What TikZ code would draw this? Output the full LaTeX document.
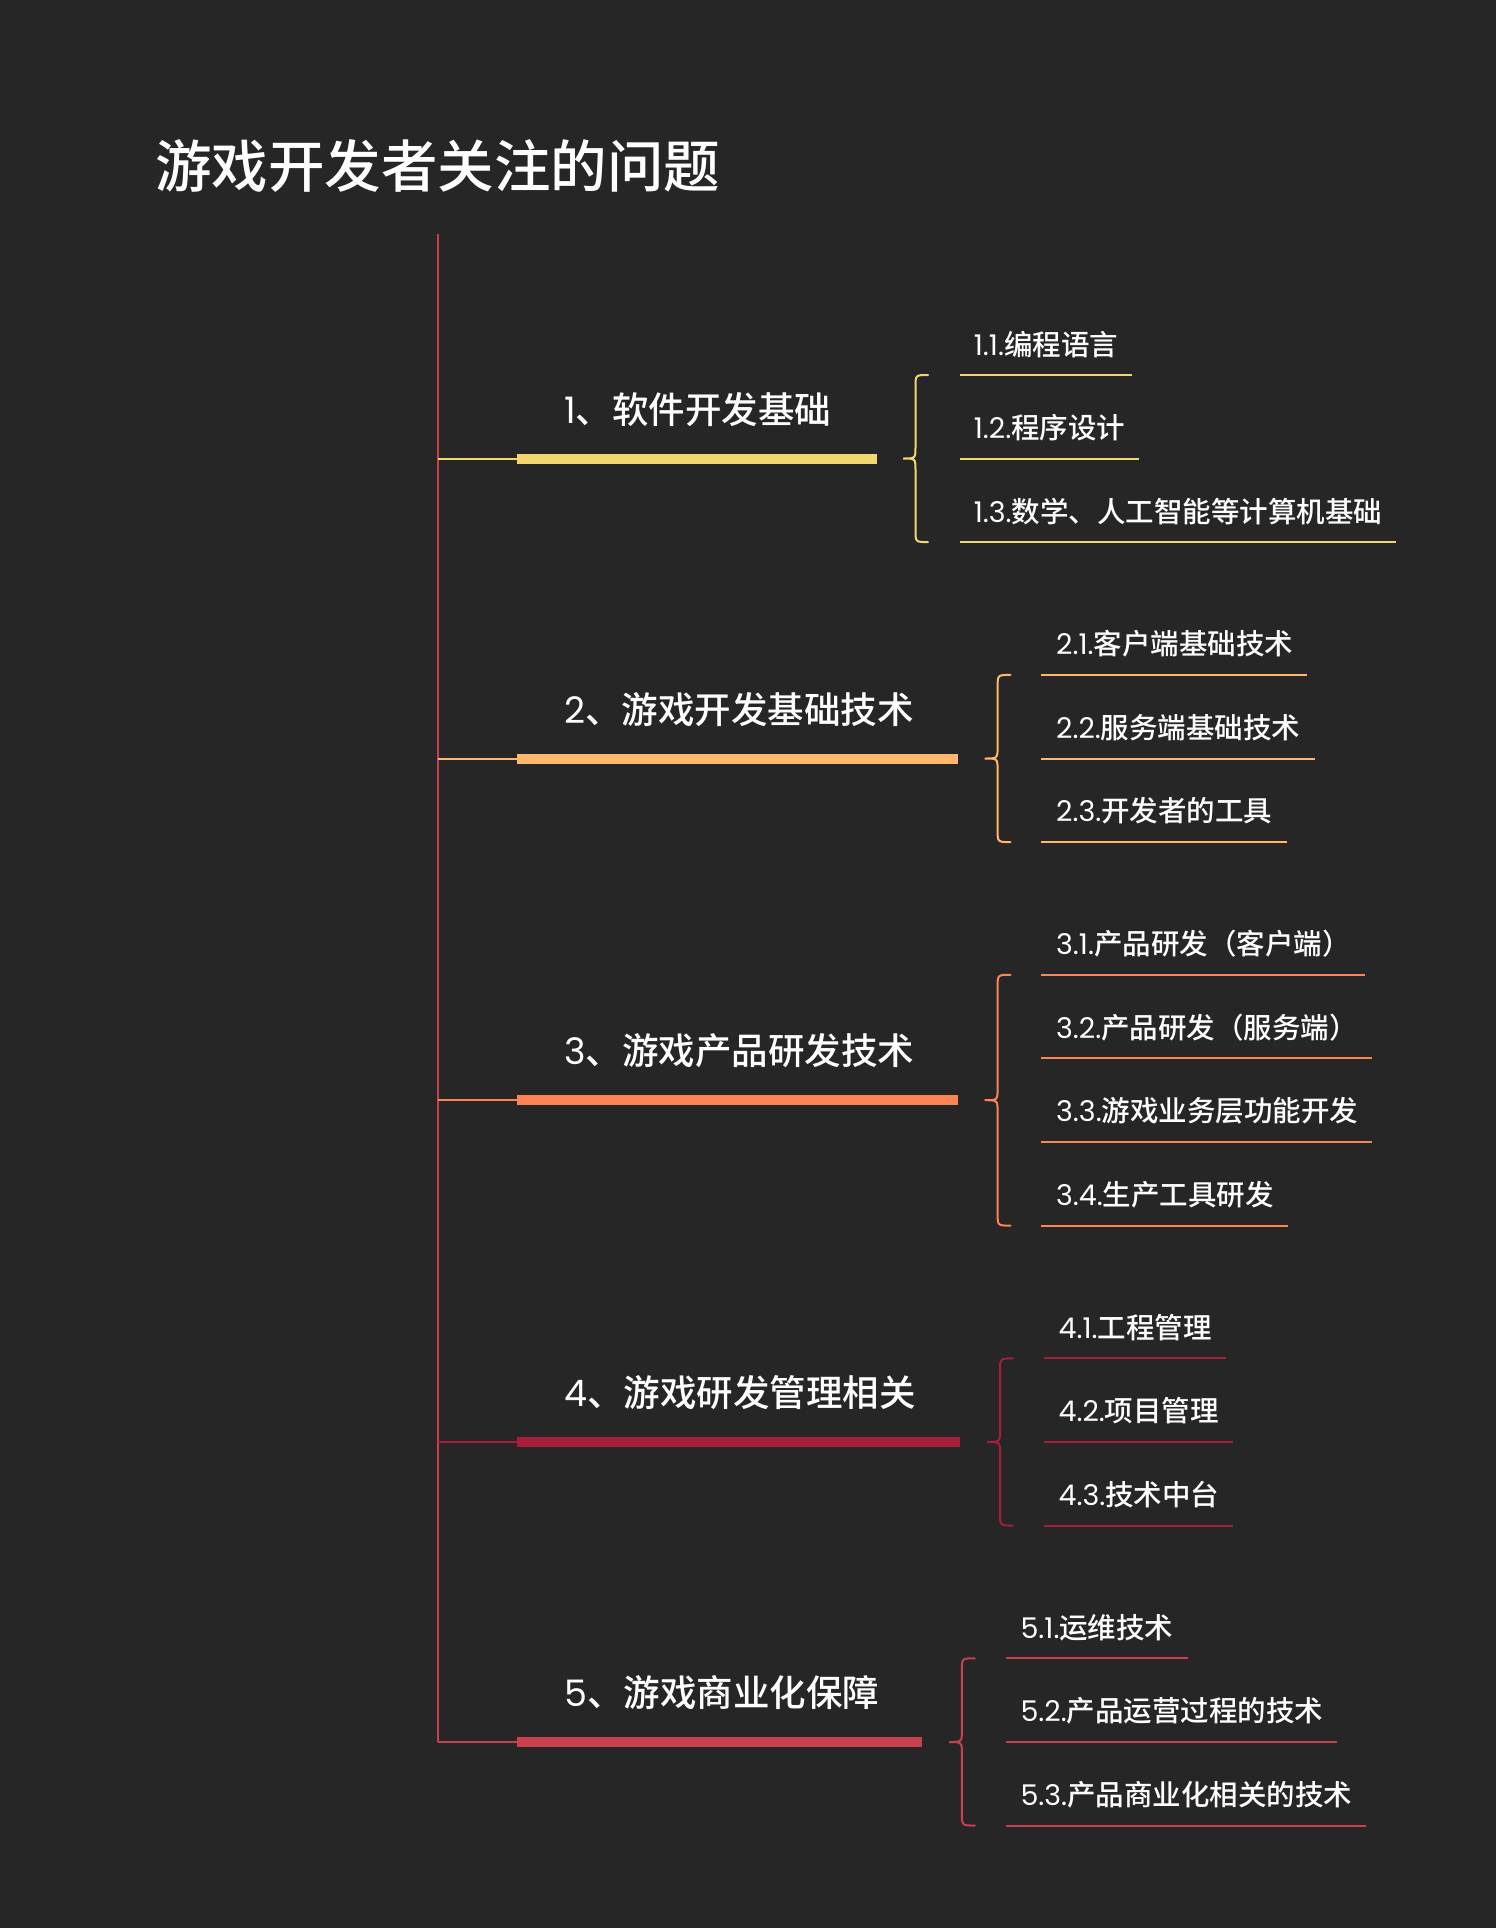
\documentclass[tikz,border=0pt]{standalone}
\usepackage{fontspec}
\setmainfont{Noto Sans CJK SC Medium}
\newfontfamily\latf{Poppins}
\newcommand\nm[1]{{\latf #1}}
\definecolor{bg}{HTML}{262626}
\definecolor{cmain}{HTML}{C8404E}
\definecolor{cone}{HTML}{F2D66E}
\definecolor{ctwo}{HTML}{FFB86B}
\definecolor{cthree}{HTML}{FD8455}
\definecolor{cfour}{HTML}{A81E3A}
\definecolor{cfive}{HTML}{C9404F}
\tikzset{
  titletext/.style={anchor=west, text=white, inner sep=0pt, font=\fontsize{56.5}{60}\selectfont},
  headtext/.style={anchor=west, text=white, inner sep=0pt, font=\fontsize{36.5}{40}\selectfont},
  childtext/.style={anchor=west, text=white, inner sep=0pt, font=\fontsize{28.5}{30}\selectfont},
  thinline/.style={line width=2pt},
  barline/.style={line width=10pt},
  underl/.style={line width=2pt},
  bracestyle/.style={line width=2pt, line cap=round},
}
\newcommand\mybrace[6]{% color, xl, xr, yt, ym, yb
  \draw[bracestyle,#1] (#3,#4) .. controls ({(#2+#3)/2},#4) .. ({(#2+#3)/2},#4+12)
    -- ({(#2+#3)/2},#5-12) .. controls ({(#2+#3)/2},#5) .. (#2,#5)
    .. controls ({(#2+#3)/2},#5) .. ({(#2+#3)/2},#5+12)
    -- ({(#2+#3)/2},#6-12) .. controls ({(#2+#3)/2},#6) .. (#3,#6);}
\begin{document}
\begin{tikzpicture}[x=1pt,y=-1pt]
\fill[bg] (0,0) rectangle (1496,1928);
\useasboundingbox (0,0) rectangle (1496,1928);

\node[titletext] (title) at (155,166) {游戏开发者关注的问题};

% main vertical line
\coordinate (top) at (438,234);
\coordinate (m1) at (438,458.5);
\coordinate (m2) at (438,758.5);
\coordinate (m3) at (438,1100.2);
\coordinate (m4) at (438,1442);
\coordinate (m5) at (438,1742);
\draw[thinline,cmain] (top) -- (m5);

% branch 1
\coordinate (b1) at (517,458.5);
\coordinate (e1) at (876.5,458.5);
\draw[thinline,cone] (m1) -- (b1);
\draw[barline,cone] (b1) -- (e1);
\node[headtext] (h1) at (564,409.4) {\nm{1}、软件开发基础};
\mybrace{cone}{903}{928}{375}{458.5}{542.1}
\node[childtext] (c11) at (973.6,344.2) {\nm{1.1.}编程语言};
\node[childtext] (c12) at (973.6,427.8) {\nm{1.2.}程序设计};
\node[childtext] (c13) at (973.6,511.4) {\nm{1.3.}数学、人工智能等计算机基础};
\draw[underl,cone] (960,375) -- ([xshift=14pt]c11.east |- 0,375);
\draw[underl,cone] (960,458.5) -- ([xshift=14pt]c12.east |- 0,458.5);
\draw[underl,cone] (960,542.1) -- ([xshift=14pt]c13.east |- 0,542.1);

% branch 2
\coordinate (b2) at (517,758.5);
\coordinate (e2) at (957.6,758.5);
\draw[thinline,ctwo] (m2) -- (b2);
\draw[barline,ctwo] (b2) -- (e2);
\node[headtext] (h2) at (564,709.3) {\nm{2}、游戏开发基础技术};
\mybrace{ctwo}{984.7}{1010.5}{674.9}{758.5}{842.1}
\node[childtext] (c21) at (1056,643.9) {\nm{2.1.}客户端基础技术};
\node[childtext] (c22) at (1056,727.5) {\nm{2.2.}服务端基础技术};
\node[childtext] (c23) at (1056,811.1) {\nm{2.3.}开发者的工具};
\draw[underl,ctwo] (1041.2,674.9) -- ([xshift=14pt]c21.east |- 0,674.9);
\draw[underl,ctwo] (1041.2,758.5) -- ([xshift=14pt]c22.east |- 0,758.5);
\draw[underl,ctwo] (1041.2,842.1) -- ([xshift=14pt]c23.east |- 0,842.1);

% branch 3
\coordinate (b3) at (517,1100.2);
\coordinate (e3) at (957.6,1100.2);
\draw[thinline,cthree] (m3) -- (b3);
\draw[barline,cthree] (b3) -- (e3);
\node[headtext] (h3) at (564,1051) {\nm{3}、游戏产品研发技术};
\mybrace{cthree}{984.7}{1010.5}{974.8}{1100.2}{1225.6}
\node[childtext] (c31) at (1056,943.8) {\nm{3.1.}产品研发（客户端）};
\node[childtext] (c32) at (1056,1027.4) {\nm{3.2.}产品研发（服务端）};
\node[childtext] (c33) at (1056,1111) {\nm{3.3.}游戏业务层功能开发};
\node[childtext] (c34) at (1056,1194.6) {\nm{3.4.}生产工具研发};
\draw[underl,cthree] (1041.2,974.8) -- ([xshift=14pt]c31.east |- 0,974.8);
\draw[underl,cthree] (1041.2,1058.4) -- ([xshift=14pt]c32.east |- 0,1058.4);
\draw[underl,cthree] (1041.2,1142) -- ([xshift=14pt]c33.east |- 0,1142);
\draw[underl,cthree] (1041.2,1225.6) -- ([xshift=14pt]c34.east |- 0,1225.6);

% branch 4
\coordinate (b4) at (517,1442);
\coordinate (e4) at (960,1442);
\draw[thinline,cfour] (m4) -- (b4);
\draw[barline,cfour] (b4) -- (e4);
\node[headtext] (h4) at (564,1392.8) {\nm{4}、游戏研发管理相关};
\mybrace{cfour}{987.1}{1013}{1358.4}{1442}{1525.6}
\node[childtext] (c41) at (1058.4,1327.4) {\nm{4.1.}工程管理};
\node[childtext] (c42) at (1058.4,1411) {\nm{4.2.}项目管理};
\node[childtext] (c43) at (1058.4,1494.6) {\nm{4.3.}技术中台};
\draw[underl,cfour] (1043.7,1358.4) -- ([xshift=14pt]c41.east |- 0,1358.4);
\draw[underl,cfour] (1043.7,1442) -- ([xshift=14pt]c42.east |- 0,1442);
\draw[underl,cfour] (1043.7,1525.6) -- ([xshift=14pt]c43.east |- 0,1525.6);

% branch 5
\coordinate (b5) at (517,1742);
\coordinate (e5) at (922,1742);
\draw[thinline,cfive] (m5) -- (b5);
\draw[barline,cfive] (b5) -- (e5);
\node[headtext] (h5) at (564,1692.8) {\nm{5}、游戏商业化保障};
\mybrace{cfive}{949}{974.8}{1658.3}{1742}{1825.5}
\node[childtext] (c51) at (1020.3,1627.3) {\nm{5.1.}运维技术};
\node[childtext] (c52) at (1020.3,1710.9) {\nm{5.2.}产品运营过程的技术};
\node[childtext] (c53) at (1020.3,1794.5) {\nm{5.3.}产品商业化相关的技术};
\draw[underl,cfive] (1005.6,1658.3) -- ([xshift=14pt]c51.east |- 0,1658.3);
\draw[underl,cfive] (1005.6,1742) -- ([xshift=14pt]c52.east |- 0,1742);
\draw[underl,cfive] (1005.6,1825.5) -- ([xshift=14pt]c53.east |- 0,1825.5);
\end{tikzpicture}
\end{document}
